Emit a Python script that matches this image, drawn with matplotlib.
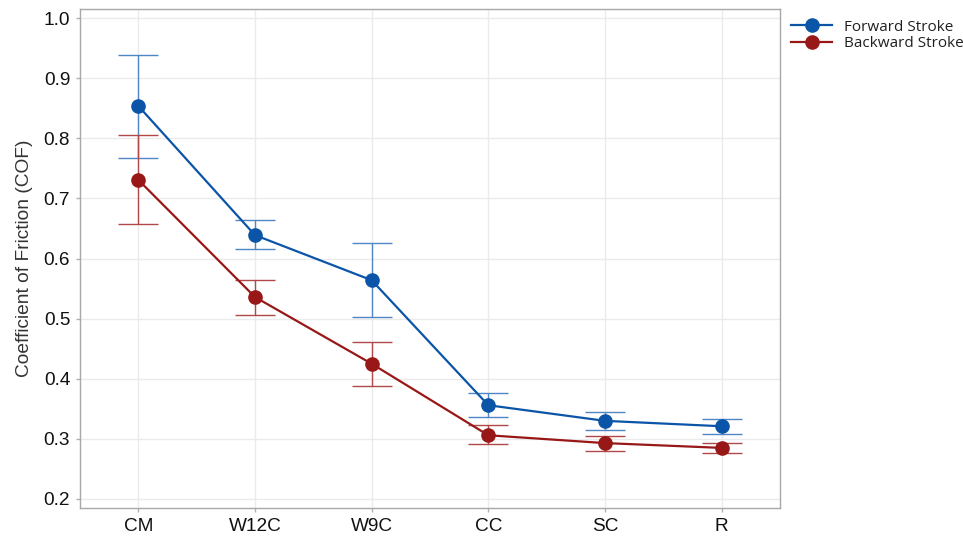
import matplotlib
matplotlib.use("Agg")
import matplotlib.pyplot as plt
import numpy as np

categories = ["CM", "W12C", "W9C", "CC", "SC", "R"]
forward = [0.854, 0.639, 0.564, 0.356, 0.330, 0.321]
forward_hi = [0.939, 0.664, 0.626, 0.376, 0.345, 0.333]
forward_lo = [0.767, 0.616, 0.503, 0.336, 0.315, 0.308]
backward = [0.731, 0.536, 0.425, 0.306, 0.293, 0.285]
backward_hi = [0.806, 0.564, 0.461, 0.323, 0.305, 0.293]
backward_lo = [0.658, 0.506, 0.388, 0.291, 0.280, 0.277]
yticks = [0.2, 0.3, 0.4, 0.5, 0.6, 0.7, 0.8, 0.9, 1.0]

fig = plt.figure(figsize=(9.63, 5.37), dpi=100)
ax = fig.add_axes([0.083, 0.054, 0.727, 0.929])
x = np.arange(len(categories))

blue = "#0b55a8"
red = "#981818"

def plot_series(vals, hi, lo, color, ecolor, label):
    vals = np.array(vals); hi = np.array(hi); lo = np.array(lo)
    ax.errorbar(x, vals, yerr=[vals - lo, hi - vals], fmt="none", ecolor=ecolor,
                elinewidth=1.0, capsize=14.5, capthick=1.0, zorder=3)
    ax.plot(x, vals, color=color, lw=1.6, marker="o", markersize=9.5,
            markerfacecolor=color, markeredgecolor=color, label=label, zorder=4)

plot_series(forward, forward_hi, forward_lo, blue, "#4f86c6", "Forward Stroke")
plot_series(backward, backward_hi, backward_lo, red, "#b04848", "Backward Stroke")

ax.set_xlim(-0.5, 5.5)
ax.set_ylim(0.185, 1.015)
ax.set_xticks(x)
ax.set_xticklabels(categories)
ax.set_yticks(yticks)
ax.set_yticklabels([f"{v:.1f}" for v in yticks])
ax.tick_params(length=3, width=1, color="#b0b0b0", labelsize=13.7, pad=4)
for lbl in ax.get_xticklabels() + ax.get_yticklabels():
    lbl.set_fontfamily("Liberation Sans")
    lbl.set_color("#111111")
ax.grid(True, color="#ebebeb", lw=1.0, zorder=0)
ax.set_axisbelow(True)
for s in ax.spines.values():
    s.set_color("#a8a8a8")
    s.set_linewidth(1.0)
ax.set_ylabel("Coefficient of Friction (COF)", fontsize=13.8, fontfamily="Liberation Sans",
              color="#333333", labelpad=8)

leg = fig.legend(loc="upper left", bbox_to_anchor=(0.815, 0.975), frameon=False,
                 prop={"family": "Open Sans", "size": 11, "weight": 500},
                 handlelength=2.7, handletextpad=0.8, labelspacing=0.12, borderaxespad=0)
for t in leg.get_texts():
    t.set_color("#202020")
fig.savefig("out.png", dpi=100)
